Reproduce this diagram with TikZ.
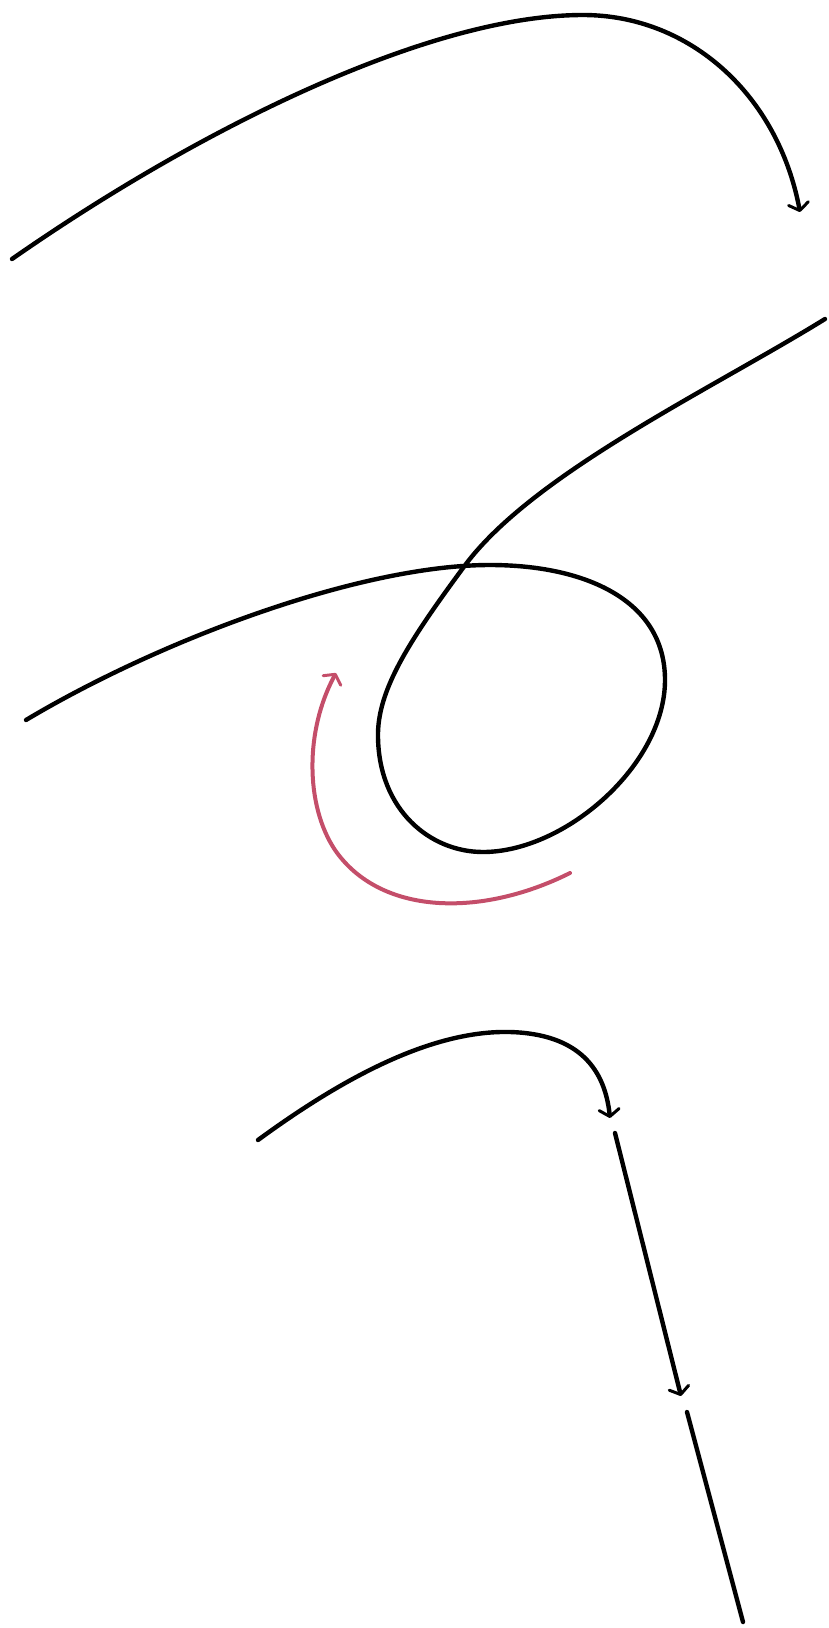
\documentclass[tikz,border=0pt]{standalone}
\usetikzlibrary{arrows.meta}
\definecolor{curvered}{RGB}{196,78,106}
\tikzset{
  stroke/.style={line width=4.4pt, black, line cap=round, line join=round},
  redstroke/.style={line width=4pt, curvered, line cap=round, line join=round},
  tip/.style={-{Straight Barb[length=7pt,width=20pt,line width=3pt,round]}},
}
\begin{document}
\begin{tikzpicture}[x=1pt,y=-1pt]
\useasboundingbox (0,0) rectangle (829,1628);
% top arc
\coordinate (a0) at (12,259);
\coordinate (a1) at (583,15);
\coordinate (a2) at (800,212);
\draw[stroke,tip] (a0) .. controls (200,128) and (430,15) .. (a1)
  .. controls (690,15) and (778,95) .. (a2);
% loop
\coordinate (l0) at (825,319);
\coordinate (lx) at (463,568);
\coordinate (ll) at (378,737);
\coordinate (lb) at (483,852);
\coordinate (lr) at (665,680);
\coordinate (lt) at (490,565);
\coordinate (le) at (26,720);
\draw[stroke] (l0) .. controls (710,390) and (530,475) .. (lx)
  .. controls (410,640) and (377,690) .. (ll)
  .. controls (379,810) and (430,852) .. (lb)
  .. controls (565,852) and (665,765) .. (lr)
  .. controls (665,600) and (585,565) .. (lt)
  .. controls (360,565) and (160,640) .. (le);
% red arrow
\coordinate (r0) at (570,873);
\coordinate (r1) at (335,850);
\coordinate (r2) at (336,673);
\draw[redstroke,tip] (r0) .. controls (480,918) and (380,915) .. (r1)
  .. controls (305,805) and (305,730) .. (r2);
% bottom arc
\coordinate (b0) at (258,1140);
\coordinate (b1) at (510,1032);
\coordinate (b2) at (610,1118);
\draw[stroke,tip] (b0) .. controls (340,1080) and (430,1030) .. (b1)
  .. controls (580,1034) and (605,1070) .. (b2);
% straight segments
\coordinate (s0) at (615,1133);
\coordinate (s1) at (681,1396);
\coordinate (s2) at (687,1412);
\coordinate (s3) at (743,1622);
\draw[stroke,tip] (s0) -- (s1);
\draw[stroke] (s2) -- (s3);
\end{tikzpicture}
\end{document}
